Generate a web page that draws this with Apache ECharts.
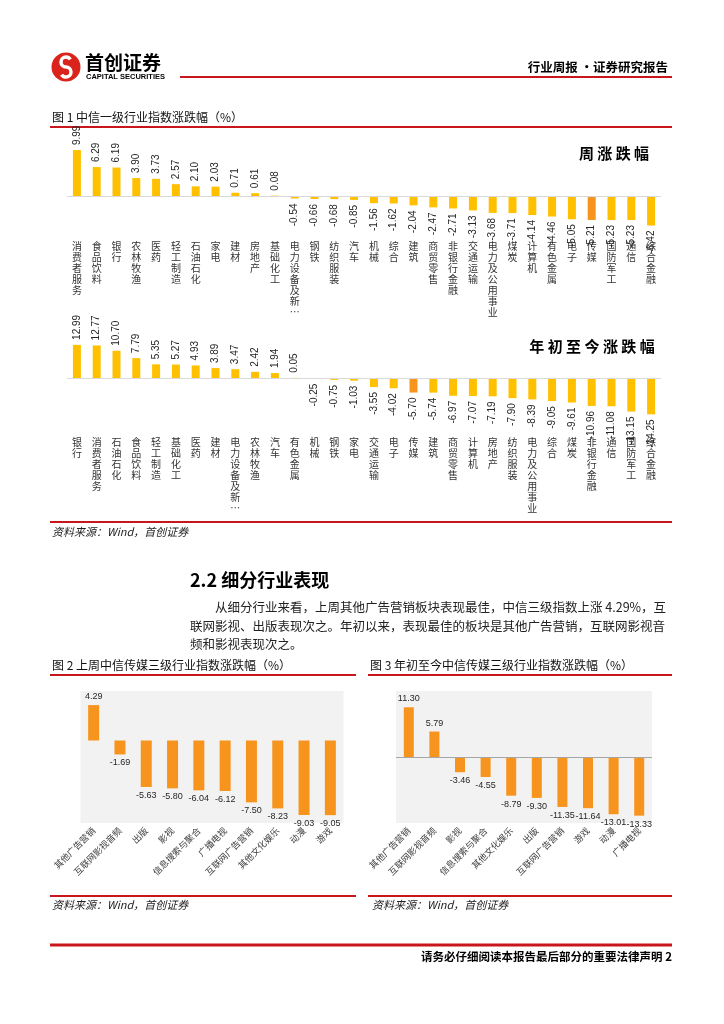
<!DOCTYPE html>
<html><head><meta charset="utf-8">
<script src="https://cdn.jsdelivr.net/npm/echarts@6/dist/echarts.min.js"></script>
<style>html,body{margin:0;padding:0;background:#fff}#c{width:724px;height:1024px}</style>
</head><body><div id="c"></div>
<script>
// ---------- data ----------
const weekCats = ['消费者服务','食品饮料','银行','农林牧渔','医药','轻工制造','石油石化','家电','建材','房地产','基础化工','电力设备及新能源','钢铁','纺织服装','汽车','机械','综合','建筑','商贸零售','非银行金融','交通运输','电力及公用事业','煤炭','计算机','有色金属','电子','传媒','国防军工','通信','综合金融'];
const weekVals = [9.99,6.29,6.19,3.90,3.73,2.57,2.10,2.03,0.71,0.61,0.08,-0.54,-0.66,-0.68,-0.85,-1.56,-1.62,-2.04,-2.47,-2.71,-3.13,-3.68,-3.71,-4.14,-4.46,-5.05,-5.21,-5.23,-5.23,-6.42];
const ytdCats = ['银行','消费者服务','石油石化','食品饮料','轻工制造','基础化工','医药','建材','电力设备及新能源','农林牧渔','汽车','有色金属','机械','钢铁','家电','交通运输','电子','传媒','建筑','商贸零售','计算机','房地产','纺织服装','电力及公用事业','综合','煤炭','非银行金融','通信','国防军工','综合金融'];
const ytdVals = [12.99,12.77,10.70,7.79,5.35,5.27,4.93,3.89,3.47,2.42,1.94,0.05,-0.25,-0.75,-1.03,-3.55,-4.02,-5.70,-5.74,-6.97,-7.07,-7.19,-7.90,-8.39,-9.05,-9.61,-10.96,-11.08,-13.15,-14.25];
const mediaWeekCats = ['其他广告营销','互联网影视音频','出版','影视','信息搜索与聚合','广播电视','互联网广告营销','其他文化娱乐','动漫','游戏'];
const mediaWeekVals = [4.29,-1.69,-5.63,-5.80,-6.04,-6.12,-7.50,-8.23,-9.03,-9.05];
const mediaYtdCats = ['其他广告营销','互联网影视音频','影视','信息搜索与聚合','其他文化娱乐','出版','互联网广告营销','游戏','动漫','广播电视'];
const mediaYtdVals = [11.30,5.79,-3.46,-4.55,-8.79,-9.30,-11.35,-11.64,-13.01,-13.33];
const highlightCat = '传媒';

// ---------- styles ----------
const CJK = '"Noto Sans CJK SC", sans-serif';
const NUM = '"Liberation Sans", Arial, sans-serif';
const YELLOW = '#FFC000', ORANGE = '#F7941D', RED = '#C9161D';

function truncate(s){ return s.length > 7 ? s.slice(0,6) + '…' : s; }
function stack(s){ return truncate(s).split('').join('\n'); }
const fmt = p => Number(p.value).toFixed(2);

function vertData(vals, cats){
  return vals.map((v,i)=>({
    value: v,
    itemStyle: {color: cats[i]===highlightCat ? ORANGE : YELLOW},
    label: {position: v>=0?'top':'bottom', align: v>=0?'left':'right'}
  }));
}
function horzData(vals){
  return vals.map(v=>({value:v, label:{position: v>=0?'top':'bottom'}}));
}

const chart = echarts.init(document.getElementById('c'), null, {renderer:'canvas'});

function T(text, x, y, font, extra){
  return Object.assign({type:'text', x:x, y:y, silent:true,
    style: Object.assign({text:text, font:font, fill:'#000', align:'left', textAlign:'left', verticalAlign:'middle', textVerticalAlign:'middle'}, extra||{})});
}
function L(x1,y1,x2,y2,w){
  return {type:'line', silent:true, shape:{x1:x1,y1:y1,x2:x2,y2:y2}, style:{stroke:RED, lineWidth:w||2}};
}

const graphics = [
  {type:'circle', shape:{cx:66, cy:67, r:14.5}, style:{fill:'#D9231B'}, silent:true},
  {type:'arc', shape:{cx:66, cy:62, r:5, startAngle:Math.PI/2, endAngle:Math.PI*11/6, clockwise:true}, style:{stroke:'#fff', lineWidth:3.5, fill:null}, silent:true},
  {type:'arc', shape:{cx:66, cy:72, r:5, startAngle:-Math.PI/2, endAngle:Math.PI*5/6, clockwise:true}, style:{stroke:'#fff', lineWidth:3.5, fill:null}, silent:true},
  T('首创证券', 85, 63, 'bold 19px ' + CJK),
  T('CAPITAL SECURITIES', 86, 77, 'bold 7.5px ' + NUM),
  L(180, 77, 672, 77, 2),
  T('行业周报 ·证券研究报告', 668, 67, 'bold 12.5px ' + CJK, {align:'right', textAlign:'right'}),
  T('图 1 中信一级行业指数涨跌幅（%）', 52, 117, '12px ' + CJK, {fill:'#111'}),
  L(50, 127, 672, 127, 2),
  T('周 涨 跌 幅', 614, 153, 'bold 15px ' + CJK, {align:'center', textAlign:'center'}),
  T('年 初 至 今 涨 跌 幅', 592, 346, 'bold 15px ' + CJK, {align:'center', textAlign:'center'}),
  L(50, 522, 672, 522, 2),
  T('资料来源：Wind，首创证券', 52, 532, 'italic 11px ' + CJK, {fill:'#222'}),
  T('2.2 细分行业表现', 190, 580, 'bold 18px ' + CJK),
  T('从细分行业来看，上周其他广告营销板块表现最佳，中信三级指数上涨 4.29%，互', 215, 607, '12.5px ' + CJK, {fill:'#222'}),
  T('联网影视、出版表现次之。年初以来，表现最佳的板块是其他广告营销，互联网影视音', 190, 626, '12.5px ' + CJK, {fill:'#222'}),
  T('频和影视表现次之。', 190, 644, '12.5px ' + CJK, {fill:'#222'}),
  T('图 2 上周中信传媒三级行业指数涨跌幅（%）', 52, 665, '12px ' + CJK, {fill:'#111'}),
  T('图 3 年初至今中信传媒三级行业指数涨跌幅（%）', 370, 665, '12px ' + CJK, {fill:'#111'}),
  L(50, 675, 356, 675, 2),
  L(368, 675, 672, 675, 2),
  L(50, 896, 356, 896, 2),
  L(368, 896, 672, 896, 2),
  T('资料来源：Wind，首创证券', 52, 905, 'italic 11px ' + CJK, {fill:'#222'}),
  T('资料来源：Wind，首创证券', 372, 905, 'italic 11px ' + CJK, {fill:'#222'}),
  L(50, 945, 672, 945, 3),
  T('请务必仔细阅读本报告最后部分的重要法律声明 2', 672, 957, 'bold 11.5px ' + CJK, {align:'right', textAlign:'right'})
];

const vertLabel = {show:true, rotate:90, verticalAlign:'middle', distance:5, fontSize:10, color:'#262626', fontFamily:NUM, formatter:fmt};
const horzLabel = {show:true, distance:4, fontSize:9, color:'#262626', fontFamily:NUM, formatter:fmt};
const zeroLine = c => ({silent:true, symbol:'none', label:{show:false}, lineStyle:{color:c, width:1, type:'solid'}, data:[{yAxis:0}]});

function catAxis(idx, cats){
  return {type:'category', gridIndex:idx, data:cats,
    axisLine:{show:false, onZero:false}, axisTick:{show:false},
    axisLabel:{interval:0, formatter:stack, fontSize:10, lineHeight:11, color:'#333', fontFamily:CJK, margin:8, verticalAlign:'top'}};
}
function rotAxis(idx, cats){
  return {type:'category', gridIndex:idx, data:cats,
    axisLine:{show:false, onZero:false}, axisTick:{show:false},
    axisLabel:{interval:0, rotate:45, fontSize:9, color:'#404040', fontFamily:CJK, margin:6}};
}

chart.setOption({
  animation:false,
  backgroundColor:'#fff',
  graphic: graphics,
  grid:[
    {left:67, width:594, top:140.8, height:92},
    {left:67, width:594, top:339.75, height:89.25},
    {left:80.5, width:263, top:691, height:132, show:true, backgroundColor:'#F2F2F2', borderWidth:0},
    {left:396, width:256, top:691, height:132, show:true, backgroundColor:'#F2F2F2', borderWidth:0}
  ],
  xAxis:[catAxis(0, weekCats), catAxis(1, ytdCats), rotAxis(2, mediaWeekCats), rotAxis(3, mediaYtdCats)],
  yAxis:[
    {type:'value', gridIndex:0, min:-8, max:12, show:false},
    {type:'value', gridIndex:1, min:-20, max:15, show:false},
    {type:'value', gridIndex:2, min:-10, max:6, show:false},
    {type:'value', gridIndex:3, min:-15, max:15, show:false}
  ],
  series:[
    {type:'bar', xAxisIndex:0, yAxisIndex:0, barWidth:8, data:vertData(weekVals, weekCats), label:vertLabel, markLine:zeroLine('#D9D9D9')},
    {type:'bar', xAxisIndex:1, yAxisIndex:1, barWidth:8, data:vertData(ytdVals, ytdCats), label:vertLabel, markLine:zeroLine('#D9D9D9')},
    {type:'bar', xAxisIndex:2, yAxisIndex:2, barWidth:11, itemStyle:{color:ORANGE}, data:horzData(mediaWeekVals), label:horzLabel},
    {type:'bar', xAxisIndex:3, yAxisIndex:3, barWidth:10, itemStyle:{color:ORANGE}, data:horzData(mediaYtdVals), label:horzLabel, markLine:zeroLine('#A6A6A6')}
  ]
});
</script>
</body></html>
